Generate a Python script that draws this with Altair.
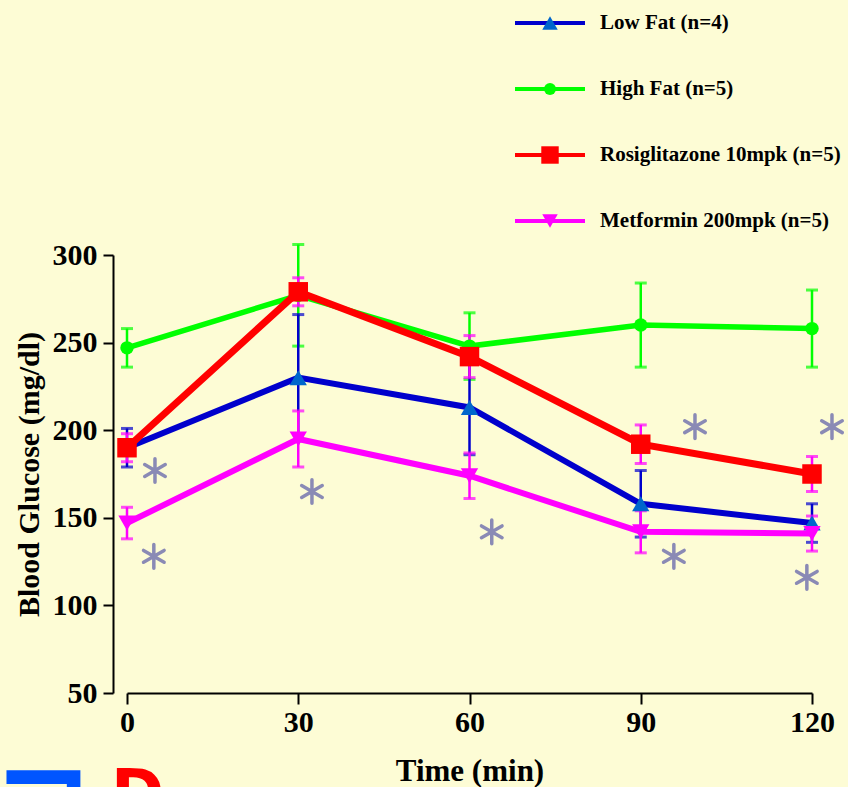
import altair as alt
import pandas as pd

# ---------------- data ----------------
times = [0, 30, 60, 90, 120]
series = ["Low Fat (n=4)", "High Fat (n=5)", "Rosiglitazone 10mpk (n=5)", "Metformin 200mpk (n=5)"]

low_fat_mean = [190, 230, 213, 158, 147]
low_fat_sem = [11, 36, 27, 19, 11]
high_fat_mean = [247, 277, 248, 260, 258]
high_fat_sem = [11, 29, 19, 24, 22]
rosi_mean = [190, 279, 242, 192, 175]
rosi_sem = [8, 8, 12, 11, 10]
met_mean = [147, 195, 174, 142, 141]
met_sem = [9, 16, 13, 12, 10]

star_x = [4.9, 4.7, 32.4, 63.9, 99.5, 95.8, 123.5, 119.1]
star_y = [177, 128, 165, 142, 202, 128, 202, 116]

y_ticks = [50, 100, 150, 200, 250, 300]

means = [low_fat_mean, high_fat_mean, rosi_mean, met_mean]
sems = [low_fat_sem, high_fat_sem, rosi_sem, met_sem]

# ---------------- styles ----------------
styles = {
    "Low Fat (n=4)": dict(line="#0000cc", point="#0066cc", err="#0000cc", shape="triangle-up", size=300, sw=6),
    "High Fat (n=5)": dict(line="#00ff00", point="#00ff00", err="#00ff00", shape="circle", size=180, sw=5.5),
    "Rosiglitazone 10mpk (n=5)": dict(line="#ff0000", point="#ff0000", err="#ff00ff", shape="square", size=380, sw=7),
    "Metformin 200mpk (n=5)": dict(line="#ff00ff", point="#ff00ff", err="#ff00ff", shape="triangle-down", size=300, sw=6),
}

rows = []
for s, m, e in zip(series, means, sems):
    for t, mv, ev in zip(times, m, e):
        rows.append({"series": s, "time": t, "mean": mv, "lo": mv - ev, "hi": mv + ev})
df = pd.DataFrame(rows)
stars = pd.DataFrame({"x": star_x, "y": star_y})

BG = "#fdfcd5"
SERIF = "Liberation Serif"

xscale = alt.Scale(domain=[0, 120], nice=False, zero=False)
yscale = alt.Scale(domain=[50, 300], nice=False, zero=False)

x_axis = alt.Axis(
    values=times, format="d", grid=False, title="Time (min)",
    tickSize=11, tickWidth=2, tickColor="black", domainWidth=2, domainColor="black",
    labelFont=SERIF, labelFontSize=30, labelFontWeight="bold", labelColor="black",
    labelPadding=3, labelFlush=False, labelOverlap=False,
    titleFont=SERIF, titleFontSize=31, titleFontWeight="bold", titleColor="black",
    titlePadding=19,
)
y_axis = alt.Axis(
    values=y_ticks, format="d", grid=False, title="Blood Glucose (mg/dl)",
    offset=14, tickSize=10, tickWidth=2, tickColor="black", domainWidth=2, domainColor="black",
    labelFont=SERIF, labelFontSize=30, labelFontWeight="bold", labelColor="black",
    labelPadding=6, labelOverlap=False, labelFlush=False,
    titleFont=SERIF, titleFontSize=30, titleFontWeight="bold", titleColor="black",
    titlePadding=8,
)


def X(field):
    return alt.X(field, type="quantitative", scale=xscale, axis=x_axis)


def Y(field):
    return alt.Y(field, type="quantitative", scale=yscale, axis=y_axis)


base = alt.Chart(df)
layers = []

# error bars (behind)
order = ["High Fat (n=5)", "Low Fat (n=4)", "Rosiglitazone 10mpk (n=5)", "Metformin 200mpk (n=5)"]
for s in order:
    st = styles[s]
    sub = base.transform_filter(alt.datum.series == s)
    layers.append(sub.mark_rule(color=st["err"], strokeWidth=2.5).encode(x=X("time"), y=Y("lo"), y2="hi:Q"))
    layers.append(sub.mark_tick(color=st["err"], orient="horizontal", size=12, thickness=3).encode(
        x=X("time"), y=Y("lo")))
    layers.append(sub.mark_tick(color=st["err"], orient="horizontal", size=12, thickness=3).encode(
        x=X("time"), y=Y("hi")))

# lines and markers
for s in order:
    st = styles[s]
    sub = base.transform_filter(alt.datum.series == s)
    layers.append(sub.mark_line(color=st["line"], strokeWidth=st["sw"]).encode(x=X("time"), y=Y("mean")))
    layers.append(sub.mark_point(color=st["point"], filled=True, opacity=1, shape=st["shape"],
                                 size=st["size"]).encode(x=X("time"), y=Y("mean")))

# significance asterisks
star_path = "M0,-1L0,1M-0.87,-0.5L0.87,0.5M-0.87,0.5L0.87,-0.5"
layers.append(alt.Chart(stars).mark_point(shape=star_path, filled=False, color="#8a8ab5",
                                          strokeWidth=3.5, size=560, opacity=1, strokeCap="round").encode(
    x=X("x"), y=Y("y")))

# manual legend (top right, above the plot area)
dummy = pd.DataFrame({"k": [0]})
for i, s in enumerate(series):
    st = styles[s]
    ly = -232 + i * 66
    lc = alt.Chart(dummy)
    layers.append(lc.mark_rule(color=st["line"], strokeWidth=4).encode(
        x=alt.value(388), x2=alt.value(458), y=alt.value(ly)))
    layers.append(lc.mark_point(color=st["point"], filled=True, opacity=1, shape=st["shape"],
                                size=st["size"] * 0.8).encode(x=alt.value(423), y=alt.value(ly)))
    layers.append(lc.mark_text(text=s, font=SERIF, fontSize=21, fontWeight="bold", color="black",
                               align="left", baseline="middle").encode(x=alt.value(473), y=alt.value(ly)))

# clipped letters of the next panel at the bottom edge
layers.append(alt.Chart(dummy).mark_text(text="D", font="DejaVu Sans", fontSize=64, fontWeight="bold",
                                         color="#ff0000", align="left", baseline="top").encode(
    x=alt.value(-16), y=alt.value(509)))
layers.append(alt.Chart(dummy).mark_text(text="¬", font="DejaVu Sans", fontSize=118, fontWeight="bold",
                                         color="#0055ff", align="left", baseline="top").encode(
    x=alt.value(-133), y=alt.value(475)))

chart = alt.layer(*layers).properties(
    width=685, height=438,
    autosize=alt.AutoSizeParams(type="none"),
    padding={"left": 127, "top": 255, "right": 36, "bottom": 94},
    background=BG,
).configure_view(stroke=None)

chart.save("out.html", embed_options={"renderer": "svg", "actions": False})
